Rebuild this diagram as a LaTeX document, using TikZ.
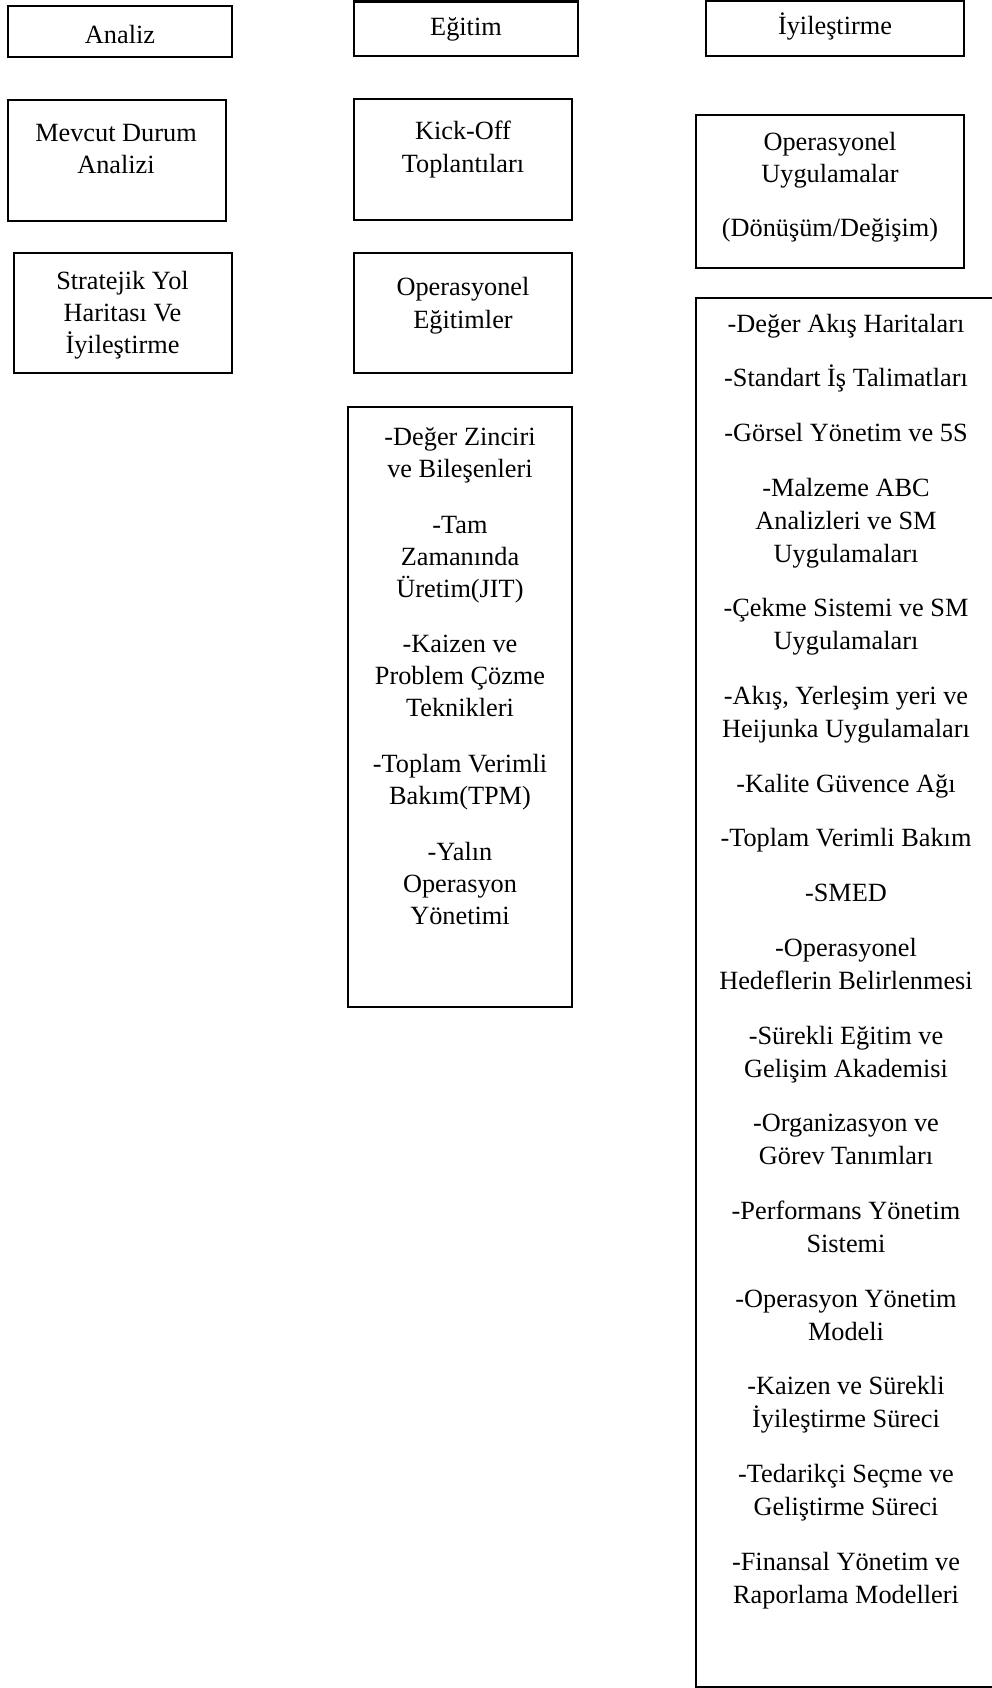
\documentclass[tikz,border=0pt]{standalone}
\usepackage{fontspec}
\setmainfont{Liberation Serif}
\begin{document}
\begin{tikzpicture}[x=1pt, y=-1pt,
  box/.style={draw=black, line width=2.6pt, inner sep=0pt, outer sep=0pt, anchor=north west},
  txt/.style={inner sep=0pt, anchor=base, font=\fontsize{26.3}{33}\selectfont}]
\useasboundingbox (0,0) rectangle (992,1688);

% column frames: x, y, width, height
\node[box, minimum width=224pt, minimum height=51pt]  (analizB) at (8,6) {};
\node[box, minimum width=224pt, minimum height=54.5pt] (egitimB) at (354,1.5) {};
\node[box, minimum width=258pt, minimum height=55pt]  (iyilB)   at (706,1) {};
\node[box, minimum width=218pt, minimum height=121pt] (mevcutB) at (8,100) {};
\node[box, minimum width=218pt, minimum height=121pt] (kickB)   at (354,99) {};
\node[box, minimum width=268pt, minimum height=153pt] (opuygB)  at (696,115) {};
\node[box, minimum width=218pt, minimum height=120pt] (stratB)  at (14,253) {};
\node[box, minimum width=218pt, minimum height=120pt] (opegB)   at (354,253) {};
\node[box, minimum width=224pt, minimum height=600pt] (listM)   at (348,407) {};
\node[box, minimum width=320pt, minimum height=1389pt] (listR)  at (696,298) {};

% headings
\node[txt] (tAnaliz) at (120,43.5) {Analiz};
\node[txt] (tEgitim) at (466,36) {Eğitim};
\node[txt] (tIyil)   at (835,35) {İyileştirme};

% left column
\node[txt] (tMev1) at (116,142) {Mevcut Durum};
\node[txt] (tMev2) at (116,174) {Analizi};
\node[txt] (tStr1) at (122.5,289) {Stratejik Yol};
\node[txt] (tStr2) at (122.5,321) {Haritası Ve};
\node[txt] (tStr3) at (122.5,353) {İyileştirme};

% middle column
\node[txt] (tKick1) at (463,140) {Kick-Off};
\node[txt] (tKick2) at (463,173) {Toplantıları};
\node[txt] (tOpe1)  at (463,295) {Operasyonel};
\node[txt] (tOpe2)  at (463,328) {Eğitimler};

\foreach \yy/\tt [count=\i] in {
  445/{-Değer Zinciri}, 477/{ve Bileşenleri},
  533/{-Tam}, 565/{Zamanında}, 597/{Üretim(JIT)},
  652/{-Kaizen ve}, 684/{Problem Çözme}, 716/{Teknikleri},
  772/{-Toplam Verimli}, 804/{Bakım(TPM)},
  860/{-Yalın}, 892/{Operasyon}, 924/{Yönetimi}}
  \node[txt] (m\i) at (460,\yy) {\tt};

% right column
\node[txt] (tUyg1) at (830,151) {Operasyonel};
\node[txt] (tUyg2) at (830,183) {Uygulamalar};
\node[txt] (tUyg3) at (830,237) {(Dönüşüm/Değişim)};

\foreach \yy/\tt [count=\i] in {
  332/{-Değer Akış Haritaları},
  386.7/{-Standart İş Talimatları},
  441.4/{-Görsel Yönetim ve 5S},
  496.1/{-Malzeme ABC}, 529.1/{Analizleri ve SM}, 562.1/{Uygulamaları},
  616.8/{-Çekme Sistemi ve SM}, 649.8/{Uygulamaları},
  704.5/{-Akış, Yerleşim yeri ve}, 737.5/{Heijunka Uygulamaları},
  792.2/{-Kalite Güvence Ağı},
  846.9/{-Toplam Verimli Bakım},
  901.6/{-SMED},
  956.3/{-Operasyonel}, 989.3/{Hedeflerin Belirlenmesi},
  1044/{-Sürekli Eğitim ve}, 1077/{Gelişim Akademisi},
  1131.7/{-Organizasyon ve}, 1164.7/{Görev Tanımları},
  1219.4/{-Performans Yönetim}, 1252.4/{Sistemi},
  1307.1/{-Operasyon Yönetim}, 1340.1/{Modeli},
  1394.8/{-Kaizen ve Sürekli}, 1427.8/{İyileştirme Süreci},
  1482.5/{-Tedarikçi Seçme ve}, 1515.5/{Geliştirme Süreci},
  1570.2/{-Finansal Yönetim ve}, 1603.2/{Raporlama Modelleri}}
  \node[txt] (r\i) at (846,\yy) {\tt};
\end{tikzpicture}
\end{document}
